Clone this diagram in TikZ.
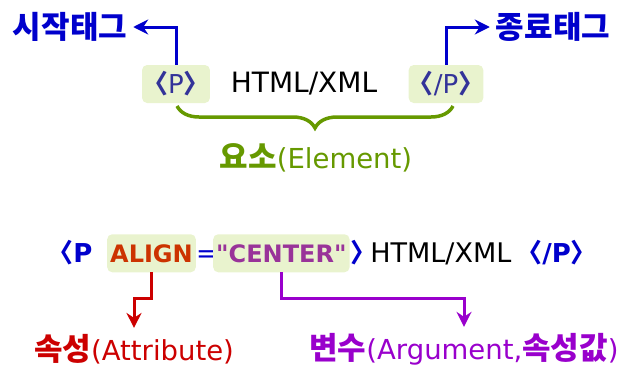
\documentclass[tikz,border=0pt]{standalone}
\usepackage{fontspec}
\setmainfont{DejaVu Sans}
\newfontfamily\kor{Noto Sans CJK KR}
\usetikzlibrary{positioning,arrows.meta,decorations.pathreplacing}
\definecolor{tagblue}{RGB}{0,0,204}
\definecolor{tagslate}{RGB}{51,51,153}
\definecolor{boxgreen}{RGB}{233,243,206}
\definecolor{elemgreen}{RGB}{102,153,0}
\definecolor{attrred}{RGB}{204,0,0}
\definecolor{attrtext}{RGB}{204,51,0}
\definecolor{argpurple}{RGB}{153,0,204}
\definecolor{argtext}{RGB}{153,51,153}
\newcommand{\topen}{\kern-.42em{\kor\bfseries 〈}}
\newcommand{\tclose}{{\kor\bfseries 〉}\kern-.42em}
\newcommand{\hangul}[1]{{\kor\bfseries\fontsize{31}{34}\selectfont #1}}
\tikzstyle{tagbox}=[fill=boxgreen, rounded corners=5pt, inner xsep=4pt, minimum height=38pt]
\tikzstyle{plain}=[inner sep=2pt, font=\fontsize{28}{32}\selectfont]
\tikzstyle{caption}=[font=\fontsize{27.5}{34}\selectfont, inner sep=6pt]
\tikzstyle{pointer}=[line width=3pt, -{Stealth[length=15pt, width=15pt, inset=5pt]}]
\begin{document}
\begin{tikzpicture}[x=1pt, y=-1pt,
                    % Default font for the tag rows.
                    every node/.style={font=\fontsize{26}{30}\selectfont}]
    \useasboundingbox (0,0) rectangle (623,367);
    % Upper row: element.
    \node[tagbox, text=tagslate, inner xsep=11pt] (stag) at (176,84) {\topen P\tclose};
    \node[plain] (body) at (304,84) {HTML/XML};
    \node[tagbox, text=tagslate, inner xsep=10pt] (etag) at (446,84) {\topen/P\tclose};
    \node[caption, text=tagblue] (startlbl) at (70,27) {\hangul{시작태그}};
    \node[caption, text=tagblue] (endlbl) at (553,27) {\hangul{종료태그}};
    \draw[pointer, tagblue] (stag.north) |- (startlbl.east);
    \draw[pointer, tagblue] (etag.north) |- (endlbl.west);
    \draw[elemgreen, line width=3.5pt, decorate, decoration={brace, mirror, amplitude=22pt}]
        (177,106) -- (453,106);
    \node[caption, text=elemgreen] (elem) at (316,158) {\hangul{요소}(Element)};
    % Lower row: attribute and argument.
    \node[anchor=base west, inner sep=0pt, text=tagblue] (popen) at (58,262) {\topen\bfseries P};
    \node[tagbox, anchor=base west, text=attrtext, inner xsep=3pt, font=\fontsize{24}{30}\selectfont] (attr) at (107,262) {\bfseries ALIGN};
    \node[anchor=base west, text=tagblue, inner sep=0pt] (eq) at (196,262) {=};
    \node[tagbox, anchor=base west, text=argtext, inner xsep=3pt, font=\fontsize{24}{30}\selectfont] (value) at (213,262) {\bfseries\textquotedbl CENTER\textquotedbl};
    \node[anchor=base west, inner sep=0pt] (body2) at (350,262) {\textcolor{tagblue}{\tclose}\kern5pt\fontsize{27}{30}\selectfont HTML/XML};
    \node[anchor=base west, text=tagblue, inner sep=0pt] (pclose) at (527,262) {\topen\bfseries/P\tclose};
    \node[caption, text=attrred] (attrlbl) at (134,349) {\hangul{속성}(Attribute)};
    \node[caption, text=argpurple] (arglbl) at (464,349) {\hangul{변수}(Argument,\hangul{속성값})};
    \draw[pointer, attrred] (attr.south) -- (attr.south |- 0,298) -| (attrlbl.north);
    \draw[pointer, argpurple] (value.south) -- (value.south |- 0,298) -| (arglbl.north);
\end{tikzpicture}
\end{document}
